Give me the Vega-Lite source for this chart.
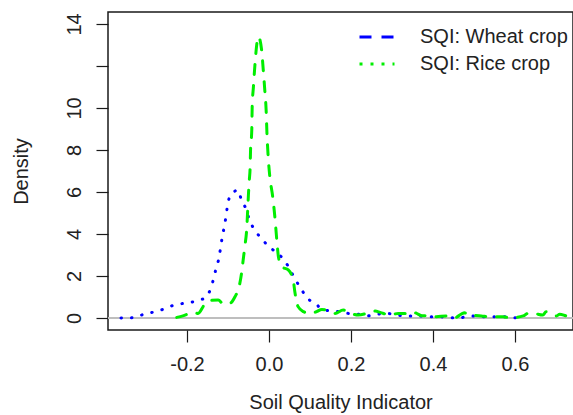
{
  "$schema": "https://vega.github.io/schema/vega-lite/v6.json",
  "autosize": {"type": "none"},
  "width": 465,
  "height": 318,
  "padding": {"left": 108, "top": 12, "right": 0, "bottom": 85},
  "background": "white",
  "config": {
    "font": "Liberation Sans",
    "view": {"stroke": "#1a1a1a", "strokeWidth": 1.5},
    "axis": {
      "domain": false,
      "grid": false,
      "ticks": true,
      "tickColor": "#1a1a1a",
      "tickSize": 12,
      "tickWidth": 1.2,
      "labelFont": "Liberation Sans",
      "labelFontSize": 20,
      "labelColor": "#222222",
      "labelPadding": 12,
      "titleFont": "Liberation Sans",
      "titleFontSize": 20,
      "titleFontWeight": "normal",
      "titleColor": "#222222"
    }
  },
  "data": {
    "values": [
      {"series": "SQI: Wheat crop", "crop": "wheat", "x": -0.361, "y": 0.0},
      {"series": "SQI: Wheat crop", "crop": "wheat", "x": -0.332, "y": 0.01},
      {"series": "SQI: Wheat crop", "crop": "wheat", "x": -0.305, "y": 0.18},
      {"series": "SQI: Wheat crop", "crop": "wheat", "x": -0.280, "y": 0.29},
      {"series": "SQI: Wheat crop", "crop": "wheat", "x": -0.259, "y": 0.41},
      {"series": "SQI: Wheat crop", "crop": "wheat", "x": -0.239, "y": 0.57},
      {"series": "SQI: Wheat crop", "crop": "wheat", "x": -0.217, "y": 0.67},
      {"series": "SQI: Wheat crop", "crop": "wheat", "x": -0.193, "y": 0.74},
      {"series": "SQI: Wheat crop", "crop": "wheat", "x": -0.173, "y": 0.83},
      {"series": "SQI: Wheat crop", "crop": "wheat", "x": -0.154, "y": 1.0},
      {"series": "SQI: Wheat crop", "crop": "wheat", "x": -0.143, "y": 1.36},
      {"series": "SQI: Wheat crop", "crop": "wheat", "x": -0.136, "y": 1.81},
      {"series": "SQI: Wheat crop", "crop": "wheat", "x": -0.129, "y": 2.37},
      {"series": "SQI: Wheat crop", "crop": "wheat", "x": -0.122, "y": 2.87},
      {"series": "SQI: Wheat crop", "crop": "wheat", "x": -0.118, "y": 3.35},
      {"series": "SQI: Wheat crop", "crop": "wheat", "x": -0.114, "y": 3.87},
      {"series": "SQI: Wheat crop", "crop": "wheat", "x": -0.109, "y": 4.35},
      {"series": "SQI: Wheat crop", "crop": "wheat", "x": -0.105, "y": 4.82},
      {"series": "SQI: Wheat crop", "crop": "wheat", "x": -0.101, "y": 5.38},
      {"series": "SQI: Wheat crop", "crop": "wheat", "x": -0.095, "y": 5.81},
      {"series": "SQI: Wheat crop", "crop": "wheat", "x": -0.087, "y": 5.97},
      {"series": "SQI: Wheat crop", "crop": "wheat", "x": -0.077, "y": 6.1},
      {"series": "SQI: Wheat crop", "crop": "wheat", "x": -0.067, "y": 5.62},
      {"series": "SQI: Wheat crop", "crop": "wheat", "x": -0.056, "y": 5.18},
      {"series": "SQI: Wheat crop", "crop": "wheat", "x": -0.050, "y": 4.80},
      {"series": "SQI: Wheat crop", "crop": "wheat", "x": -0.042, "y": 4.43},
      {"series": "SQI: Wheat crop", "crop": "wheat", "x": -0.030, "y": 4.06},
      {"series": "SQI: Wheat crop", "crop": "wheat", "x": -0.015, "y": 3.71},
      {"series": "SQI: Wheat crop", "crop": "wheat", "x": 0.001, "y": 3.37},
      {"series": "SQI: Wheat crop", "crop": "wheat", "x": 0.016, "y": 3.16},
      {"series": "SQI: Wheat crop", "crop": "wheat", "x": 0.031, "y": 2.89},
      {"series": "SQI: Wheat crop", "crop": "wheat", "x": 0.045, "y": 2.52},
      {"series": "SQI: Wheat crop", "crop": "wheat", "x": 0.055, "y": 2.16},
      {"series": "SQI: Wheat crop", "crop": "wheat", "x": 0.066, "y": 1.78},
      {"series": "SQI: Wheat crop", "crop": "wheat", "x": 0.080, "y": 1.33},
      {"series": "SQI: Wheat crop", "crop": "wheat", "x": 0.092, "y": 0.99},
      {"series": "SQI: Wheat crop", "crop": "wheat", "x": 0.107, "y": 0.73},
      {"series": "SQI: Wheat crop", "crop": "wheat", "x": 0.119, "y": 0.59},
      {"series": "SQI: Wheat crop", "crop": "wheat", "x": 0.124, "y": 0.46},
      {"series": "SQI: Wheat crop", "crop": "wheat", "x": 0.145, "y": 0.35},
      {"series": "SQI: Wheat crop", "crop": "wheat", "x": 0.173, "y": 0.30},
      {"series": "SQI: Wheat crop", "crop": "wheat", "x": 0.193, "y": 0.22},
      {"series": "SQI: Wheat crop", "crop": "wheat", "x": 0.218, "y": 0.18},
      {"series": "SQI: Wheat crop", "crop": "wheat", "x": 0.240, "y": 0.10},
      {"series": "SQI: Wheat crop", "crop": "wheat", "x": 0.263, "y": 0.18},
      {"series": "SQI: Wheat crop", "crop": "wheat", "x": 0.287, "y": 0.22},
      {"series": "SQI: Wheat crop", "crop": "wheat", "x": 0.311, "y": 0.14},
      {"series": "SQI: Wheat crop", "crop": "wheat", "x": 0.340, "y": 0.10},
      {"series": "SQI: Wheat crop", "crop": "wheat", "x": 0.364, "y": 0.10},
      {"series": "SQI: Wheat crop", "crop": "wheat", "x": 0.388, "y": 0.06},
      {"series": "SQI: Wheat crop", "crop": "wheat", "x": 0.417, "y": 0.06},
      {"series": "SQI: Wheat crop", "crop": "wheat", "x": 0.441, "y": 0.01},
      {"series": "SQI: Wheat crop", "crop": "wheat", "x": 0.466, "y": 0.01},
      {"series": "SQI: Wheat crop", "crop": "wheat", "x": 0.490, "y": 0.10},
      {"series": "SQI: Wheat crop", "crop": "wheat", "x": 0.517, "y": 0.06},
      {"series": "SQI: Wheat crop", "crop": "wheat", "x": 0.541, "y": 0.06},
      {"series": "SQI: Wheat crop", "crop": "wheat", "x": 0.571, "y": 0.06},
      {"series": "SQI: Wheat crop", "crop": "wheat", "x": 0.593, "y": 0.01},
      {"series": "SQI: Wheat crop", "crop": "wheat", "x": 0.620, "y": 0.01},
      {"series": "SQI: Rice crop", "crop": "rice", "x": -0.225, "y": 0.03},
      {"series": "SQI: Rice crop", "crop": "rice", "x": -0.210, "y": 0.10},
      {"series": "SQI: Rice crop", "crop": "rice", "x": -0.185, "y": 0.27},
      {"series": "SQI: Rice crop", "crop": "rice", "x": -0.173, "y": 0.22},
      {"series": "SQI: Rice crop", "crop": "rice", "x": -0.157, "y": 0.65},
      {"series": "SQI: Rice crop", "crop": "rice", "x": -0.144, "y": 0.83},
      {"series": "SQI: Rice crop", "crop": "rice", "x": -0.124, "y": 0.86},
      {"series": "SQI: Rice crop", "crop": "rice", "x": -0.111, "y": 0.67},
      {"series": "SQI: Rice crop", "crop": "rice", "x": -0.095, "y": 0.70},
      {"series": "SQI: Rice crop", "crop": "rice", "x": -0.083, "y": 1.01},
      {"series": "SQI: Rice crop", "crop": "rice", "x": -0.072, "y": 1.57},
      {"series": "SQI: Rice crop", "crop": "rice", "x": -0.067, "y": 2.13},
      {"series": "SQI: Rice crop", "crop": "rice", "x": -0.063, "y": 2.76},
      {"series": "SQI: Rice crop", "crop": "rice", "x": -0.059, "y": 3.40},
      {"series": "SQI: Rice crop", "crop": "rice", "x": -0.054, "y": 4.35},
      {"series": "SQI: Rice crop", "crop": "rice", "x": -0.052, "y": 5.14},
      {"series": "SQI: Rice crop", "crop": "rice", "x": -0.050, "y": 5.94},
      {"series": "SQI: Rice crop", "crop": "rice", "x": -0.048, "y": 6.57},
      {"series": "SQI: Rice crop", "crop": "rice", "x": -0.046, "y": 7.20},
      {"series": "SQI: Rice crop", "crop": "rice", "x": -0.045, "y": 8.0},
      {"series": "SQI: Rice crop", "crop": "rice", "x": -0.042, "y": 8.95},
      {"series": "SQI: Rice crop", "crop": "rice", "x": -0.041, "y": 10.06},
      {"series": "SQI: Rice crop", "crop": "rice", "x": -0.038, "y": 11.01},
      {"series": "SQI: Rice crop", "crop": "rice", "x": -0.034, "y": 12.13},
      {"series": "SQI: Rice crop", "crop": "rice", "x": -0.030, "y": 13.0},
      {"series": "SQI: Rice crop", "crop": "rice", "x": -0.026, "y": 13.40},
      {"series": "SQI: Rice crop", "crop": "rice", "x": -0.018, "y": 12.76},
      {"series": "SQI: Rice crop", "crop": "rice", "x": -0.014, "y": 11.81},
      {"series": "SQI: Rice crop", "crop": "rice", "x": -0.010, "y": 10.78},
      {"series": "SQI: Rice crop", "crop": "rice", "x": -0.007, "y": 9.90},
      {"series": "SQI: Rice crop", "crop": "rice", "x": -0.005, "y": 8.80},
      {"series": "SQI: Rice crop", "crop": "rice", "x": -0.002, "y": 7.68},
      {"series": "SQI: Rice crop", "crop": "rice", "x": 0.002, "y": 6.73},
      {"series": "SQI: Rice crop", "crop": "rice", "x": 0.009, "y": 5.78},
      {"series": "SQI: Rice crop", "crop": "rice", "x": 0.015, "y": 4.67},
      {"series": "SQI: Rice crop", "crop": "rice", "x": 0.019, "y": 3.71},
      {"series": "SQI: Rice crop", "crop": "rice", "x": 0.023, "y": 2.92},
      {"series": "SQI: Rice crop", "crop": "rice", "x": 0.031, "y": 2.44},
      {"series": "SQI: Rice crop", "crop": "rice", "x": 0.047, "y": 2.29},
      {"series": "SQI: Rice crop", "crop": "rice", "x": 0.059, "y": 1.81},
      {"series": "SQI: Rice crop", "crop": "rice", "x": 0.063, "y": 1.25},
      {"series": "SQI: Rice crop", "crop": "rice", "x": 0.071, "y": 0.54},
      {"series": "SQI: Rice crop", "crop": "rice", "x": 0.084, "y": 0.30},
      {"series": "SQI: Rice crop", "crop": "rice", "x": 0.100, "y": 0.22},
      {"series": "SQI: Rice crop", "crop": "rice", "x": 0.116, "y": 0.30},
      {"series": "SQI: Rice crop", "crop": "rice", "x": 0.129, "y": 0.41},
      {"series": "SQI: Rice crop", "crop": "rice", "x": 0.149, "y": 0.30},
      {"series": "SQI: Rice crop", "crop": "rice", "x": 0.161, "y": 0.22},
      {"series": "SQI: Rice crop", "crop": "rice", "x": 0.181, "y": 0.38},
      {"series": "SQI: Rice crop", "crop": "rice", "x": 0.193, "y": 0.27},
      {"series": "SQI: Rice crop", "crop": "rice", "x": 0.218, "y": 0.14},
      {"series": "SQI: Rice crop", "crop": "rice", "x": 0.238, "y": 0.22},
      {"series": "SQI: Rice crop", "crop": "rice", "x": 0.259, "y": 0.33},
      {"series": "SQI: Rice crop", "crop": "rice", "x": 0.271, "y": 0.27},
      {"series": "SQI: Rice crop", "crop": "rice", "x": 0.295, "y": 0.14},
      {"series": "SQI: Rice crop", "crop": "rice", "x": 0.315, "y": 0.22},
      {"series": "SQI: Rice crop", "crop": "rice", "x": 0.336, "y": 0.22},
      {"series": "SQI: Rice crop", "crop": "rice", "x": 0.348, "y": 0.30},
      {"series": "SQI: Rice crop", "crop": "rice", "x": 0.360, "y": 0.22},
      {"series": "SQI: Rice crop", "crop": "rice", "x": 0.372, "y": 0.11},
      {"series": "SQI: Rice crop", "crop": "rice", "x": 0.392, "y": 0.10},
      {"series": "SQI: Rice crop", "crop": "rice", "x": 0.408, "y": 0.06},
      {"series": "SQI: Rice crop", "crop": "rice", "x": 0.432, "y": 0.10},
      {"series": "SQI: Rice crop", "crop": "rice", "x": 0.453, "y": 0.01},
      {"series": "SQI: Rice crop", "crop": "rice", "x": 0.469, "y": 0.19},
      {"series": "SQI: Rice crop", "crop": "rice", "x": 0.477, "y": 0.25},
      {"series": "SQI: Rice crop", "crop": "rice", "x": 0.485, "y": 0.14},
      {"series": "SQI: Rice crop", "crop": "rice", "x": 0.518, "y": 0.10},
      {"series": "SQI: Rice crop", "crop": "rice", "x": 0.538, "y": 0.06},
      {"series": "SQI: Rice crop", "crop": "rice", "x": 0.571, "y": 0.06},
      {"series": "SQI: Rice crop", "crop": "rice", "x": 0.587, "y": 0.01},
      {"series": "SQI: Rice crop", "crop": "rice", "x": 0.620, "y": 0.10},
      {"series": "SQI: Rice crop", "crop": "rice", "x": 0.632, "y": 0.22},
      {"series": "SQI: Rice crop", "crop": "rice", "x": 0.644, "y": 0.22},
      {"series": "SQI: Rice crop", "crop": "rice", "x": 0.668, "y": 0.14},
      {"series": "SQI: Rice crop", "crop": "rice", "x": 0.676, "y": 0.30},
      {"series": "SQI: Rice crop", "crop": "rice", "x": 0.685, "y": 0.25},
      {"series": "SQI: Rice crop", "crop": "rice", "x": 0.701, "y": 0.10},
      {"series": "SQI: Rice crop", "crop": "rice", "x": 0.709, "y": 0.18},
      {"series": "SQI: Rice crop", "crop": "rice", "x": 0.725, "y": 0.10},
      {"series": "SQI: Rice crop", "crop": "rice", "x": 0.737, "y": 0.06},
      {"series": "SQI: Rice crop", "crop": "rice", "x": 0.760, "y": 0.05}
    ]
  },
  "layer": [
    {
      "mark": {"type": "rule", "color": "#bebebe", "strokeWidth": 1.2},
      "encoding": {"y": {"datum": 0, "type": "quantitative"}}
    },
    {
      "mark": {"type": "line", "strokeWidth": 3, "strokeCap": "round", "clip": true, "interpolate": "monotone"},
      "encoding": {
        "x": {
          "field": "x",
          "type": "quantitative",
          "scale": {"domain": [-0.3927, 0.7415], "nice": false, "zero": false},
          "axis": {
            "title": "Soil Quality Indicator",
            "values": [-0.2, 0, 0.2, 0.4, 0.6],
            "labelExpr": "datum.value < 0 ? '-' + format(-datum.value, '.1f') : format(datum.value, '.1f')",
            "titlePadding": 18
          }
        },
        "y": {
          "field": "y",
          "type": "quantitative",
          "scale": {"domain": [-0.571, 14.571], "nice": false, "zero": false},
          "axis": {
            "title": "Density",
            "values": [0, 2, 4, 6, 8, 10, 12, 14],
            "labelExpr": "datum.value == 12 ? '' : format(datum.value, 'd')",
            "labelAngle": -90,
            "labelAlign": "center",
            "labelBaseline": "bottom",
            "titlePadding": 33
          }
        },
        "color": {
          "field": "series",
          "type": "nominal",
          "scale": {"domain": ["SQI: Wheat crop", "SQI: Rice crop"], "range": ["#0000ff", "#00ee00"]},
          "legend": {
            "title": null,
            "orient": "none",
            "legendX": 250,
            "legendY": 12,
            "padding": 0,
            "symbolType": "stroke",
            "symbolSize": 1225,
            "symbolStrokeWidth": 3,
            "labelOffset": 24,
            "labelFont": "Liberation Sans",
            "labelFontSize": 20,
            "labelColor": "#222222",
            "clipHeight": 26,
            "rowPadding": 1,
            "encode": {
              "symbols": {
                "update": {
                  "strokeDash": {"signal": "datum.value === 'SQI: Wheat crop' ? [12, 10] : [3, 8]"},
                  "strokeCap": {"value": "butt"}
                }
              }
            }
          }
        },
        "strokeDash": {
          "field": "crop",
          "type": "nominal",
          "scale": {"domain": ["wheat", "rice"], "range": [[0.5, 10], [10, 11]]},
          "legend": null
        }
      }
    }
  ]
}
